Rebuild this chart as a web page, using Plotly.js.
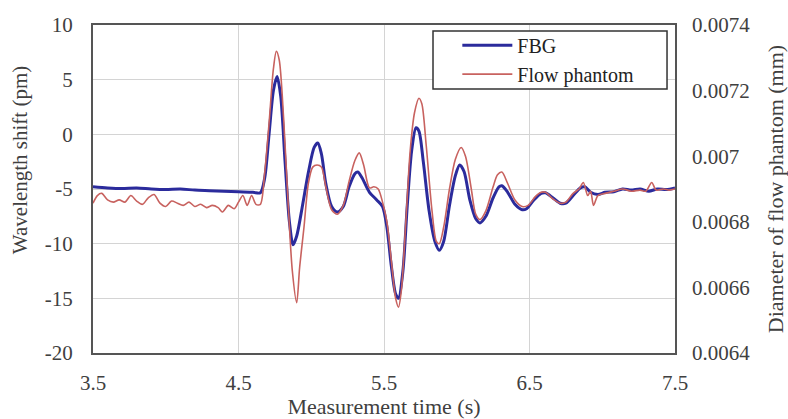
<!DOCTYPE html>
<html>
<head>
<meta charset="utf-8">
<script src="https://cdn.plot.ly/plotly-3.0.1.min.js"></script>
<style>html,body{margin:0;padding:0;background:#fff;}#chart{width:788px;height:419px;}</style>
</head>
<body>
<div id="chart"></div>
<script>
// FBG: measurement time (s) and wavelength shift (pm)
const fbgTime = [3.50,3.60,3.70,3.80,3.90,4.00,4.10,4.20,4.30,4.40,4.50,4.60,4.65,4.68,4.71,4.74,4.765,4.79,4.82,4.85,4.875,4.90,4.94,4.98,5.02,5.045,5.07,5.10,5.14,5.18,5.22,5.26,5.30,5.32,5.35,5.40,5.45,5.49,5.52,5.55,5.58,5.60,5.63,5.66,5.69,5.72,5.74,5.77,5.81,5.85,5.88,5.91,5.95,5.99,6.02,6.05,6.09,6.13,6.16,6.20,6.25,6.29,6.31,6.35,6.40,6.45,6.48,6.53,6.58,6.61,6.66,6.71,6.75,6.80,6.85,6.88,6.92,6.97,7.02,7.08,7.14,7.20,7.26,7.32,7.38,7.44,7.50];
const fbgShift = [-4.8,-4.9,-4.95,-4.9,-5.0,-5.05,-5.0,-5.1,-5.15,-5.2,-5.25,-5.3,-5.35,-4.0,0.0,4.0,5.3,3.5,-2.5,-8.0,-10.1,-9.3,-6.5,-3.5,-1.2,-0.8,-1.8,-4.5,-6.6,-7.1,-6.6,-4.8,-3.6,-3.45,-4.0,-5.3,-6.0,-6.6,-8.5,-12.0,-14.6,-15.0,-12.5,-6.5,-1.5,0.6,0.3,-2.5,-7.0,-9.8,-10.6,-9.8,-6.5,-3.8,-2.8,-3.4,-6.0,-7.7,-8.1,-7.5,-5.8,-4.8,-4.7,-5.3,-6.4,-6.9,-6.8,-6.0,-5.4,-5.35,-5.8,-6.3,-6.3,-5.6,-4.9,-4.8,-5.3,-5.5,-5.3,-5.25,-5.0,-5.1,-5.0,-5.2,-5.0,-5.05,-4.9];

// Flow phantom: measurement time (s) and diameter (mm)
const phantomTime = [3.50,3.53,3.56,3.60,3.64,3.68,3.72,3.76,3.80,3.84,3.88,3.92,3.96,4.00,4.04,4.08,4.12,4.16,4.20,4.24,4.28,4.32,4.36,4.39,4.43,4.47,4.50,4.53,4.56,4.59,4.62,4.65,4.68,4.71,4.74,4.76,4.78,4.81,4.84,4.87,4.90,4.92,4.95,4.98,5.01,5.04,5.07,5.10,5.14,5.18,5.22,5.26,5.30,5.33,5.36,5.40,5.43,5.46,5.49,5.52,5.55,5.58,5.60,5.62,5.65,5.68,5.71,5.74,5.76,5.79,5.83,5.86,5.88,5.91,5.95,5.99,6.03,6.06,6.10,6.13,6.16,6.20,6.25,6.28,6.31,6.35,6.40,6.45,6.49,6.54,6.58,6.61,6.66,6.71,6.75,6.80,6.84,6.87,6.90,6.92,6.94,6.97,7.02,7.08,7.14,7.20,7.26,7.30,7.34,7.37,7.42,7.46,7.50];
const phantomDiameter = [0.0068567,0.00688,0.0068867,0.0068667,0.00686,0.0068667,0.00686,0.00688,0.0068633,0.0068533,0.0068733,0.0068833,0.0068567,0.0068467,0.0068633,0.0068567,0.00685,0.00686,0.0068467,0.0068533,0.0068433,0.00685,0.0068433,0.00683,0.00685,0.00684,0.00686,0.00688,0.00685,0.00688,0.0068533,0.0068533,0.00695,0.0071,0.0072667,0.00732,0.0072933,0.0071167,0.0068667,0.00665,0.0065533,0.00666,0.0067833,0.0069167,0.0069667,0.0069733,0.0069667,0.0069067,0.0068367,0.0068233,0.00685,0.0069233,0.0069867,0.00701,0.0069733,0.0069033,0.0069067,0.0069,0.00686,0.0068,0.0066833,0.0065667,0.00654,0.0065933,0.0068,0.0070167,0.0071333,0.0071767,0.00716,0.0070333,0.0068333,0.00674,0.0067333,0.0067833,0.0069,0.00699,0.0070267,0.007,0.0069,0.0068233,0.0068067,0.0068333,0.0069067,0.0069433,0.0069517,0.0069167,0.0068667,0.0068467,0.00685,0.0068767,0.00689,0.00689,0.00687,0.0068567,0.00686,0.0068867,0.0069,0.00692,0.00688,0.0068933,0.00685,0.00688,0.0068867,0.0068933,0.0069,0.0068933,0.0068967,0.0068933,0.00692,0.0068967,0.0069,0.0068967,0.0069];

// Tick labels
const xTicks = [3.5,4.5,5.5,6.5,7.5];
const xTickText = ['3.5','4.5','5.5','6.5','7.5'];
const yTicks = [-20,-15,-10,-5,0,5,10];
const yTickText = ['-20','-15','-10','-5','0','5','10'];
const y2Ticks = [0.0064,0.0066,0.0068,0.007,0.0072,0.0074];
const y2TickText = ['0.0064','0.0066','0.0068','0.007','0.0072','0.0074'];

const FONT = '"Liberation Serif", "Times New Roman", serif';
const TXT = '#404040';

const traces = [
  {x: fbgTime, y: fbgShift, name: 'FBG', type: 'scatter', mode: 'lines',
   line: {color: '#2b2b9c', width: 3, shape: 'spline', smoothing: 0.8}, yaxis: 'y'},
  {x: phantomTime, y: phantomDiameter, name: 'Flow phantom', type: 'scatter', mode: 'lines',
   line: {color: '#c8625f', width: 1.6, shape: 'spline', smoothing: 0.8}, yaxis: 'y2'}
];

const layout = {
  width: 788, height: 419,
  margin: {l: 93, r: 113, t: 25, b: 66},
  paper_bgcolor: '#fff', plot_bgcolor: '#fff',
  font: {family: FONT, size: 21, color: TXT},
  showlegend: true,
  legend: {x: 0.626, y: 0.998, xanchor: 'left', yanchor: 'top', bgcolor: 'rgba(0,0,0,0)',
    borderwidth: 0, font: {family: FONT, size: 20, color: '#222'}, itemwidth: 50, tracegroupgap: 0},
  xaxis: {range: [3.5, 7.5], tickvals: xTicks, ticktext: xTickText, showgrid: true, gridcolor: '#d4d4d4', gridwidth: 1,
    zeroline: false, showline: true, linecolor: '#555', linewidth: 2, mirror: true, ticks: '',
    ticklabelstandoff: 10, tickfont: {family: FONT, size: 21, color: TXT},
    title: {text: 'Measurement time (s)', font: {family: FONT, size: 22, color: TXT}, standoff: 6}},
  yaxis: {range: [-20, 10], tickvals: yTicks, ticktext: yTickText, showgrid: true, gridcolor: '#d4d4d4', gridwidth: 1,
    zeroline: false, showline: true, linecolor: '#555', linewidth: 2, mirror: true, ticks: '',
    ticklabelstandoff: 14, tickfont: {family: FONT, size: 21, color: TXT}},
  yaxis2: {range: [0.0064, 0.0074], overlaying: 'y', side: 'right', tickvals: y2Ticks, ticktext: y2TickText,
    showgrid: false, zeroline: false, showline: false, ticks: '',
    ticklabelstandoff: 16, tickfont: {family: FONT, size: 21, color: TXT},
    title: {text: 'Diameter of flow phantom (mm)', font: {family: FONT, size: 22, color: TXT}, standoff: 20}},
  annotations: [
    {text: 'Wavelength shift (pm)', xref: 'paper', yref: 'paper', x: -0.1254, y: 0.588,
     xanchor: 'center', yanchor: 'middle', textangle: -90, showarrow: false,
     font: {family: FONT, size: 21, color: TXT}}
  ],
  shapes: [
    {type: 'rect', xref: 'paper', yref: 'paper', x0: 0.5842, x1: 0.9863, y0: 0.8049, y1: 0.9817,
     line: {color: '#333', width: 1.5}, fillcolor: '#fff', layer: 'above'}
  ]
};

Plotly.newPlot('chart', traces, layout, {staticPlot: true, displayModeBar: false});
</script>
</body>
</html>
